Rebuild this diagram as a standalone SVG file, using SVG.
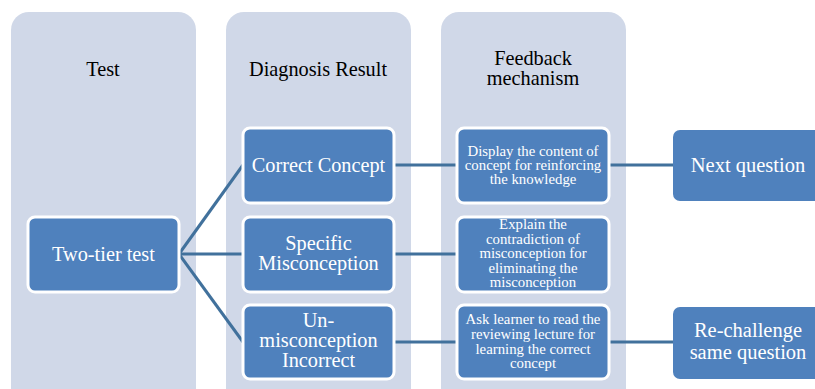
<svg xmlns="http://www.w3.org/2000/svg" width="815" height="389" viewBox="0 0 815 389">
  <style>
    .col { fill: #D0D8E8; }
    .head { font-family: "Liberation Serif", "Times New Roman", serif; font-size: 20.3px; fill: #000; text-anchor: middle; }
    .node { fill: #4F81BD; stroke: #FFFFFF; stroke-width: 3; }
    .ext { fill: #4F81BD; }
    .big { font-family: "Liberation Serif", "Times New Roman", serif; font-size: 20.3px; fill: #FFFFFF; text-anchor: middle; }
    .small { font-family: "Liberation Serif", "Times New Roman", serif; font-size: 14.8px; fill: #FFFFFF; text-anchor: middle; }
    .xl { font-family: "Liberation Serif", "Times New Roman", serif; font-size: 20.5px; fill: #FFFFFF; text-anchor: middle; }
    .link { stroke: #41719C; stroke-width: 3; fill: none; }
  </style>

  <!-- column backgrounds -->
  <g id="columns">
    <rect class="col" x="11" y="12" width="185" height="400" rx="18"/>
    <rect class="col" x="226" y="12" width="185" height="400" rx="18"/>
    <rect class="col" x="441" y="12" width="185" height="400" rx="18"/>
    <text class="head" x="103" y="76">Test</text>
    <text class="head" x="318" y="76">Diagnosis Result</text>
    <text class="head" x="533" y="65">Feedback</text>
    <text class="head" x="533" y="85">mechanism</text>
  </g>

  <!-- connectors -->
  <g id="connectors">
    <line class="link" x1="179" y1="254" x2="243" y2="165"/>
    <line class="link" x1="179" y1="254" x2="243" y2="254"/>
    <line class="link" x1="179" y1="254" x2="243" y2="342"/>
    <line class="link" x1="394" y1="165" x2="457" y2="165"/>
    <line class="link" x1="394" y1="254" x2="457" y2="254"/>
    <line class="link" x1="394" y1="342" x2="457" y2="342"/>
    <line class="link" x1="609" y1="165" x2="673" y2="165"/>
    <line class="link" x1="609" y1="342" x2="673" y2="342"/>
  </g>

  <g id="two-tier-test">
    <rect class="node" x="28" y="217" width="151" height="75" rx="7"/>
    <text class="big" x="103.5" y="261">Two-tier test</text>
  </g>

  <g id="correct-concept">
    <rect class="node" x="243" y="128" width="151" height="75" rx="7"/>
    <text class="big" x="318.5" y="172">Correct Concept</text>
  </g>

  <g id="specific-misconception">
    <rect class="node" x="243" y="217" width="151" height="75" rx="7"/>
    <text class="big" x="318.5" y="250">Specific</text>
    <text class="big" x="318.5" y="270">Misconception</text>
  </g>

  <g id="un-misconception">
    <rect class="node" x="243" y="305" width="151" height="74" rx="7"/>
    <text class="big" x="318.5" y="327">Un-</text>
    <text class="big" x="318.5" y="347">misconception</text>
    <text class="big" x="318.5" y="367">Incorrect</text>
  </g>

  <g id="display-content">
    <rect class="node" x="457" y="128" width="152" height="75" rx="7"/>
    <text class="small" x="533" y="156">Display the content of</text>
    <text class="small" x="533" y="170">concept for reinforcing</text>
    <text class="small" x="533" y="184">the knowledge</text>
  </g>

  <g id="explain-contradiction">
    <rect class="node" x="457" y="217" width="152" height="75" rx="7"/>
    <text class="small" x="533" y="229">Explain the</text>
    <text class="small" x="533" y="243.5">contradiction of</text>
    <text class="small" x="533" y="258">misconception for</text>
    <text class="small" x="533" y="272.5">eliminating the</text>
    <text class="small" x="533" y="287">misconception</text>
  </g>

  <g id="ask-learner">
    <rect class="node" x="457" y="305" width="152" height="74" rx="7"/>
    <text class="small" x="533" y="324">Ask learner to read the</text>
    <text class="small" x="533" y="339">reviewing lecture for</text>
    <text class="small" x="533" y="354">learning the correct</text>
    <text class="small" x="533" y="368">concept</text>
  </g>

  <g id="next-question">
    <rect class="ext" x="673" y="130" width="150" height="71" rx="7"/>
    <text class="xl" x="748" y="172">Next question</text>
  </g>

  <g id="re-challenge">
    <rect class="ext" x="673" y="307" width="150" height="72" rx="7"/>
    <text class="xl" x="748" y="337">Re-challenge</text>
    <text class="xl" x="748" y="359">same question</text>
  </g>
</svg>
